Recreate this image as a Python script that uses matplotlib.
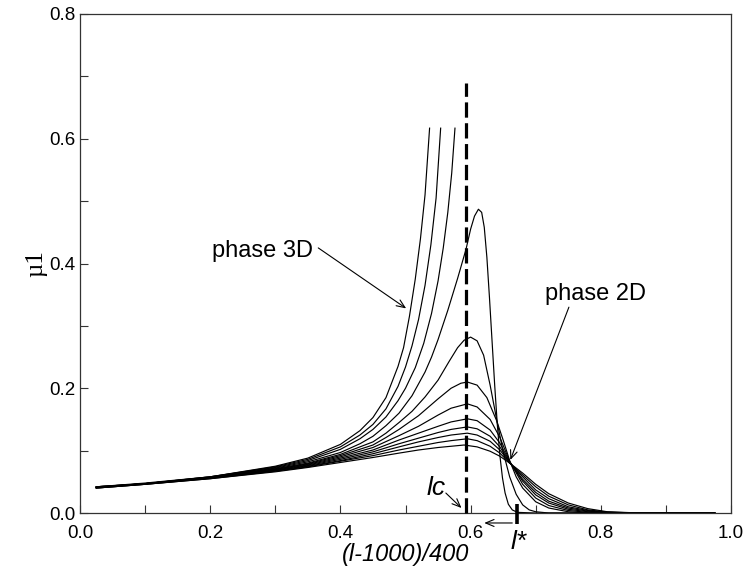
import matplotlib
matplotlib.use("Agg")
import matplotlib.pyplot as plt
from matplotlib.ticker import MultipleLocator

plt.rcParams['font.family'] = ['Liberation Sans', 'DejaVu Sans']
plt.rcParams['lines.scale_dashes'] = False

# ---------------- data ----------------
# 2D-phase curves (broad maximum near lc)
c0_x = [0.025, 0.1, 0.2, 0.3, 0.35, 0.4, 0.45, 0.49, 0.52, 0.55, 0.57, 0.59, 0.61, 0.63, 0.645, 0.66, 0.68, 0.70, 0.72, 0.75, 0.78, 0.81, 0.85, 0.9, 0.975]
c0_y = [0.040, 0.046, 0.055, 0.066, 0.073, 0.081, 0.089, 0.096, 0.101, 0.105, 0.107, 0.109, 0.106, 0.099, 0.091, 0.080, 0.064, 0.046, 0.031, 0.016, 0.007, 0.002, 0.0004, 0.0, 0.0]

c1_x = [0.025, 0.1, 0.2, 0.3, 0.35, 0.4, 0.45, 0.49, 0.52, 0.55, 0.57, 0.595, 0.61, 0.63, 0.645, 0.66, 0.68, 0.70, 0.72, 0.75, 0.78, 0.81, 0.85, 0.9, 0.975]
c1_y = [0.040, 0.046, 0.055, 0.067, 0.074, 0.083, 0.092, 0.101, 0.107, 0.113, 0.116, 0.119, 0.116, 0.107, 0.096, 0.080, 0.061, 0.042, 0.027, 0.013, 0.005, 0.0015, 0.0002, 0.0, 0.0]

c2_x = c1_x
c2_y = [0.040, 0.046, 0.056, 0.068, 0.075, 0.084, 0.095, 0.106, 0.114, 0.121, 0.125, 0.128, 0.125, 0.115, 0.101, 0.081, 0.058, 0.037, 0.023, 0.010, 0.004, 0.001, 0.0001, 0.0, 0.0]

c3_x = c1_x
c3_y = [0.041, 0.047, 0.056, 0.068, 0.076, 0.086, 0.098, 0.111, 0.120, 0.129, 0.134, 0.138, 0.135, 0.123, 0.106, 0.081, 0.054, 0.033, 0.019, 0.008, 0.003, 0.0008, 0.0, 0.0, 0.0]

c4_x = c1_x
c4_y = [0.041, 0.047, 0.056, 0.069, 0.077, 0.088, 0.101, 0.117, 0.128, 0.139, 0.146, 0.151, 0.148, 0.133, 0.112, 0.082, 0.051, 0.029, 0.016, 0.006, 0.002, 0.0005, 0.0, 0.0, 0.0]

c5_x = c1_x
c5_y = [0.041, 0.047, 0.057, 0.070, 0.078, 0.090, 0.105, 0.124, 0.139, 0.157, 0.168, 0.175, 0.170, 0.150, 0.121, 0.083, 0.046, 0.024, 0.012, 0.004, 0.001, 0.0, 0.0, 0.0, 0.0]

c6_x = [0.025, 0.1, 0.2, 0.3, 0.35, 0.4, 0.45, 0.47, 0.49, 0.52, 0.55, 0.57, 0.585, 0.595, 0.61, 0.625, 0.64, 0.65, 0.66, 0.67, 0.68, 0.70, 0.72, 0.75, 0.78, 0.975]
c6_y = [0.041, 0.047, 0.057, 0.070, 0.079, 0.092, 0.109, 0.121, 0.134, 0.156, 0.183, 0.200, 0.208, 0.210, 0.205, 0.185, 0.148, 0.117, 0.084, 0.058, 0.040, 0.018, 0.008, 0.002, 0.0, 0.0]

c7_x = [0.025, 0.1, 0.2, 0.3, 0.35, 0.4, 0.45, 0.47, 0.49, 0.51, 0.53, 0.55, 0.567, 0.58, 0.59, 0.60, 0.61, 0.62, 0.63, 0.64, 0.65, 0.66, 0.67, 0.68, 0.69, 0.70, 0.72, 0.975]
c7_y = [0.041, 0.047, 0.057, 0.071, 0.080, 0.094, 0.114, 0.128, 0.145, 0.163, 0.186, 0.213, 0.243, 0.265, 0.277, 0.282, 0.276, 0.253, 0.205, 0.150, 0.098, 0.058, 0.030, 0.013, 0.005, 0.002, 0.0, 0.0]

c8_x = [0.025, 0.1, 0.2, 0.3, 0.35, 0.4, 0.43, 0.45, 0.47, 0.49, 0.51, 0.53, 0.54, 0.55, 0.565, 0.58, 0.593, 0.600, 0.606, 0.612, 0.617, 0.621, 0.625, 0.629, 0.633, 0.637, 0.641, 0.645, 0.649, 0.653, 0.658, 0.664, 0.672, 0.70, 0.975]
c8_y = [0.042, 0.047, 0.057, 0.072, 0.082, 0.097, 0.111, 0.123, 0.140, 0.160, 0.188, 0.226, 0.250, 0.278, 0.325, 0.376, 0.423, 0.455, 0.476, 0.487, 0.482, 0.458, 0.410, 0.345, 0.275, 0.205, 0.142, 0.092, 0.056, 0.032, 0.014, 0.005, 0.001, 0.0, 0.0]

# 3D-phase curves (diverging before lc)
c9_x = [0.025, 0.1, 0.2, 0.3, 0.35, 0.4, 0.43, 0.45, 0.47, 0.4885, 0.50, 0.515, 0.528, 0.54, 0.55, 0.558, 0.565, 0.571, 0.576]
c9_y = [0.042, 0.047, 0.058, 0.073, 0.084, 0.102, 0.119, 0.134, 0.154, 0.180, 0.200, 0.233, 0.272, 0.320, 0.372, 0.425, 0.482, 0.545, 0.617]

c10_x = [0.025, 0.1, 0.2, 0.3, 0.35, 0.4, 0.43, 0.45, 0.47, 0.4885, 0.50, 0.51, 0.52, 0.53, 0.539, 0.547, 0.554]
c10_y = [0.042, 0.047, 0.058, 0.074, 0.086, 0.106, 0.125, 0.142, 0.167, 0.203, 0.234, 0.268, 0.310, 0.365, 0.430, 0.505, 0.617]

c11_x = [0.025, 0.1, 0.2, 0.3, 0.35, 0.4, 0.43, 0.45, 0.47, 0.4885, 0.497, 0.506, 0.515, 0.523, 0.530, 0.537]
c11_y = [0.042, 0.048, 0.058, 0.075, 0.088, 0.110, 0.132, 0.153, 0.185, 0.235, 0.265, 0.315, 0.375, 0.440, 0.510, 0.617]

curves_x = [c0_x, c1_x, c2_x, c3_x, c4_x, c5_x, c6_x, c7_x, c8_x, c9_x, c10_x, c11_x]
curves_y = [c0_y, c1_y, c2_y, c3_y, c4_y, c5_y, c6_y, c7_y, c8_y, c9_y, c10_y, c11_y]

# markers
lc_x = 0.593
lc_top = 0.69
lstar_x = 0.672

x_ticks = [0.0, 0.2, 0.4, 0.6, 0.8, 1.0]
y_ticks = [0.0, 0.2, 0.4, 0.6, 0.8]

# ---------------- figure ----------------
fig = plt.figure(figsize=(7.47, 5.66), dpi=100)
ax = fig.add_axes([80/747, 1 - 513/566, (731-80)/747, (513-14)/566])

for xs, ys in zip(curves_x, curves_y):
    ax.plot(xs, ys, color='black', lw=0.85, solid_joinstyle='round')

ax.plot([lc_x, lc_x], [0.0, lc_top], color='black', lw=2.3,
        dashes=(11, 4), clip_on=False, zorder=3)
ax.plot([lstar_x, lstar_x], [-0.017, 0.014], color='black', lw=2.6,
        clip_on=False, zorder=4, solid_capstyle='butt')

ax.set_xlim(0, 1.0)
ax.set_ylim(0, 0.8)
ax.set_xticks(x_ticks)
ax.set_yticks(y_ticks)
ax.set_xticklabels([f"{v:.1f}" for v in x_ticks])
ax.set_yticklabels([f"{v:.1f}" for v in y_ticks])
ax.xaxis.set_minor_locator(MultipleLocator(0.1))
ax.yaxis.set_minor_locator(MultipleLocator(0.1))
ax.tick_params(axis='both', which='both', direction='in', length=6, width=0.8,
               top=False, right=False, labelsize=13.5, color='#333333')
ax.tick_params(axis='x', which='major', pad=9)
ax.tick_params(axis='y', which='major', pad=3)
for s in ax.spines.values():
    s.set_linewidth(0.9)
    s.set_color('#333333')

ax.set_xlabel('(l-1000)/400', fontsize=17, style='italic', labelpad=0)
ax.set_ylabel('µ1', fontsize=18, family=['Liberation Serif', 'DejaVu Serif'], labelpad=2)

arrow_kw = dict(arrowstyle='->,head_length=0.6,head_width=0.25', lw=0.8, color='black',
                shrinkA=0, shrinkB=0)

ax.text(0.281, 0.410, 'phase 3D', fontsize=17, ha='center', va='baseline')
ax.annotate('', xy=(0.501, 0.328), xytext=(0.366, 0.425), arrowprops=arrow_kw)

ax.text(0.792, 0.341, 'phase 2D', fontsize=17, ha='center', va='baseline')
ax.annotate('', xy=(0.661, 0.085), xytext=(0.751, 0.330), arrowprops=arrow_kw)

ax.text(0.547, 0.029, 'lc', fontsize=19, style='italic', ha='center', va='baseline')
ax.annotate('', xy=(0.586, 0.008), xytext=(0.562, 0.032), arrowprops=arrow_kw)

ax.text(0.674, -0.057, 'l*', fontsize=19, style='italic', ha='center', va='baseline',
        clip_on=False)
ax.annotate('', xy=(0.621, -0.016), xytext=(0.664, -0.016), arrowprops=arrow_kw,
            annotation_clip=False)

fig.savefig('out.png', dpi=100)
